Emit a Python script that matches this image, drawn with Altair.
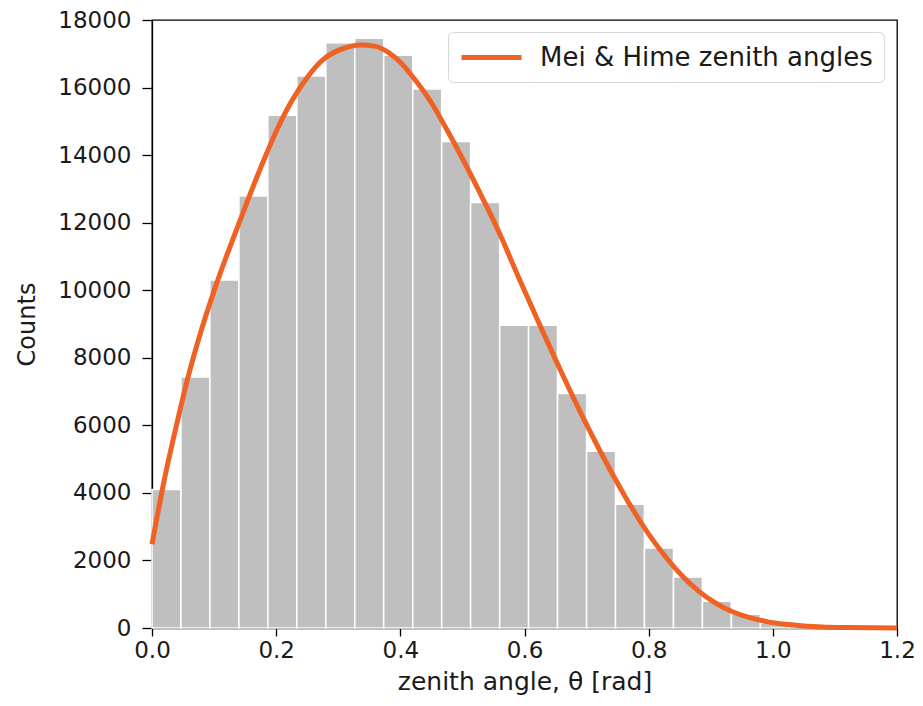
import altair as alt
import pandas as pd

# Histogram bins (zenith angle, rad) and counts
bin_start = [0.0, 0.0467, 0.0933, 0.14, 0.1866, 0.2333, 0.28, 0.3266, 0.3732,
             0.42, 0.4666, 0.5132, 0.56, 0.6066, 0.6532, 0.70, 0.7466, 0.7932,
             0.84, 0.8866, 0.9332, 0.98, 1.0266, 1.0732, 1.12]
bin_end = [0.0467, 0.0933, 0.14, 0.1866, 0.2333, 0.28, 0.3266, 0.3732, 0.42,
           0.4666, 0.5132, 0.56, 0.6066, 0.6532, 0.70, 0.7466, 0.7932, 0.84,
           0.8866, 0.9332, 0.98, 1.0266, 1.0732, 1.12, 1.1666]
bin_counts = [4100, 7430, 10300, 12790, 15180, 16340, 17330, 17460, 16960,
              15960, 14400, 12600, 8960, 8960, 6940, 5230, 3660, 2370, 1510,
              790, 405, 150, 50, 15, 5]

# Fitted curve
curve_theta = [0.0, 0.02, 0.04, 0.057, 0.08, 0.106, 0.13, 0.155, 0.18, 0.20,
               0.225, 0.25, 0.275, 0.30, 0.32, 0.335, 0.36, 0.38, 0.40, 0.425,
               0.45, 0.475, 0.50, 0.525, 0.557, 0.59, 0.6245, 0.66, 0.697, 0.72,
               0.745, 0.772, 0.80, 0.825, 0.853, 0.88, 0.906, 0.935, 0.96, 0.99,
               1.02, 1.05, 1.08, 1.12, 1.16, 1.2]
curve_counts = [2480, 4400, 6050, 7350, 8850, 10300, 11500, 12700, 13850, 14700,
                15600, 16300, 16820, 17100, 17220, 17260, 17220, 17050, 16750, 16200,
                15550, 14750, 13900, 13000, 11800, 10400, 8980, 7550, 6130, 5300,
                4450, 3580, 2780, 2160, 1560, 1100, 760, 480, 320, 190,
                110, 60, 30, 12, 4, 1]

series_name = "Mei & Hime zenith angles"

hist_df = pd.DataFrame({"start": bin_start, "end": bin_end, "count": bin_counts})
curve_df = pd.DataFrame({"theta": curve_theta, "count": curve_counts,
                         "series": [series_name] * len(curve_theta)})

FONT = "DejaVu Sans"

xscale = alt.Scale(domain=[0, 1.2], nice=False, zero=False)
yscale = alt.Scale(domain=[0, 18000], nice=False)

xaxis = alt.Axis(title="zenith angle, θ [rad]", values=[0, 0.2, 0.4, 0.6, 0.8, 1.0, 1.2],
                 format=".1f", grid=False, tickSize=8, labelPadding=3,
                 labelFlush=False, titlePadding=7, titleFontSize=25)
yaxis = alt.Axis(title="Counts", values=list(range(0, 18001, 2000)), format="d",
                 grid=False, tickSize=10, labelPadding=11, titlePadding=18,
                 labelFlush=False)

bars = alt.Chart(hist_df).mark_rect(color="#bfbfbf", stroke="white", strokeWidth=1.5).encode(
    x=alt.X("start:Q", scale=xscale, axis=xaxis),
    x2="end:Q",
    y=alt.Y("count:Q", scale=yscale, axis=yaxis),
    y2=alt.datum(0),
)

line = alt.Chart(curve_df).mark_line(strokeWidth=5, interpolate="monotone").encode(
    x=alt.X("theta:Q", scale=xscale),
    y=alt.Y("count:Q", scale=yscale),
    color=alt.Color("series:N",
                    scale=alt.Scale(domain=[series_name], range=["#ef6223"]),
                    legend=alt.Legend(title=None, orient="none", legendX=296, legendY=12,
                                      symbolType="M-1,0H4", symbolStrokeWidth=5,
                                      symbolSize=576, labelFontSize=26, labelFont=FONT,
                                      labelColor="#1a1a1a", padding=11, labelLimit=600,
                                      strokeColor="#d6d6d6", fillColor="white",
                                      cornerRadius=5, labelOffset=52)),
)

chart = alt.layer(bars, line).properties(
    width=745, height=608,
    autosize=alt.AutoSizeParams(type="none"),
    padding={"left": 144, "top": 12, "right": 18, "bottom": 70},
).configure_view(
    stroke="black", strokeWidth=1.3
).configure_axis(
    domainColor="black", domainWidth=1.3, tickColor="black", tickWidth=1.3,
    labelFont=FONT, labelFontSize=23, labelColor="#1a1a1a",
    titleFont=FONT, titleFontSize=24, titleFontWeight="normal", titleColor="#1a1a1a",
)

chart.save("out.html", embed_options={"renderer": "svg", "actions": False})
